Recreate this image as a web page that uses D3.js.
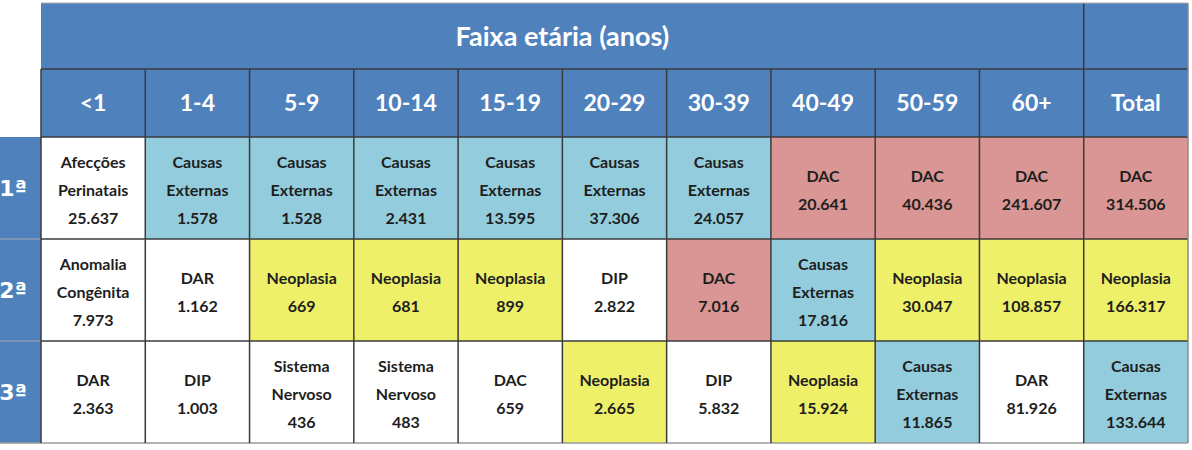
<!DOCTYPE html>
<html>
<head>
<meta charset="utf-8">
<script src="https://cdn.jsdelivr.net/npm/d3@7"></script>
<style>
  body { margin: 0; background: #fff; }
  svg text { font-family: Lato, "Open Sans", sans-serif; }
  svg text.rank-label { font-family: "DejaVu Sans", "Open Sans", sans-serif; }
</style>
</head>
<body>
<svg class="tabela"></svg>
<script>
const width = 1192;
const height = 450;

const title = "Faixa etária (anos)";
const ageGroups = ["<1", "1-4", "5-9", "10-14", "15-19", "20-29", "30-39", "40-49", "50-59", "60+", "Total"];
const ranks = ["1ª", "2ª", "3ª"];
const firstCause = ["Afecções Perinatais", "Causas Externas", "Causas Externas", "Causas Externas", "Causas Externas", "Causas Externas", "Causas Externas", "DAC", "DAC", "DAC", "DAC"];
const firstValue = [25637, 1578, 1528, 2431, 13595, 37306, 24057, 20641, 40436, 241607, 314506];
const secondCause = ["Anomalia Congênita", "DAR", "Neoplasia", "Neoplasia", "Neoplasia", "DIP", "DAC", "Causas Externas", "Neoplasia", "Neoplasia", "Neoplasia"];
const secondValue = [7973, 1162, 669, 681, 899, 2822, 7016, 17816, 30047, 108857, 166317];
const thirdCause = ["DAR", "DIP", "Sistema Nervoso", "Sistema Nervoso", "DAC", "Neoplasia", "DIP", "Neoplasia", "Causas Externas", "DAR", "Causas Externas"];
const thirdValue = [2363, 1003, 436, 483, 659, 2665, 5832, 15924, 11865, 81926, 133644];
// cells that are highlighted in the original table (1 = shaded by cause)
const firstMarked = [0, 1, 1, 1, 1, 1, 1, 1, 1, 1, 1];
const secondMarked = [0, 0, 1, 1, 1, 0, 1, 1, 1, 1, 1];
const thirdMarked = [0, 0, 0, 0, 0, 1, 0, 1, 1, 0, 1];

const causes = [firstCause, secondCause, thirdCause];
const values = [firstValue, secondValue, thirdValue];
const marked = [firstMarked, secondMarked, thirdMarked];

const blue = "#4f81bd";
const lineColor = "#3b3b3b";
const causeColor = d3.scaleOrdinal()
  .domain(["Causas Externas", "DAC", "Neoplasia"])
  .range(["#93cddd", "#da9694", "#eff06a"])
  .unknown("#ffffff");

const br = d3.formatLocale({ decimal: ",", thousands: ".", grouping: [3], currency: ["R$", ""] });
const fmt = br.format(",d");

const svg = d3.select(".tabela").attr("width", width).attr("height", height);

const tLeft = 41, tRight = 1188, tTop = 3, headMid = 69, headBottom = 137, tBottom = 443;

const x = d3.scaleBand().domain(ageGroups).range([tLeft, tRight]);
const y = d3.scaleBand().domain(ranks).range([headBottom, tBottom]);

// header block
svg.append("rect")
  .attr("x", tLeft).attr("y", tTop)
  .attr("width", tRight - tLeft).attr("height", headBottom - tTop)
  .attr("fill", blue);

svg.append("text")
  .attr("x", (x("<1") + x("Total")) / 2)
  .attr("y", (tTop + headMid) / 2)
  .attr("dy", "0.36em")
  .attr("text-anchor", "middle")
  .attr("fill", "#fff")
  .attr("font-size", 27)
  .attr("font-weight", 700)
  .text(title);

svg.selectAll(".col-label")
  .data(ageGroups)
  .enter()
  .append("text")
  .attr("class", "col-label")
  .attr("x", d => x(d) + x.bandwidth() / 2)
  .attr("y", (headMid + headBottom) / 2)
  .attr("dy", "0.36em")
  .attr("text-anchor", "middle")
  .attr("fill", "#fff")
  .attr("font-size", 23)
  .attr("font-weight", 700)
  .text(d => d);

// rank column
svg.append("rect")
  .attr("x", 0).attr("y", headBottom)
  .attr("width", tLeft).attr("height", tBottom - headBottom)
  .attr("fill", blue);

svg.selectAll(".rank-sep")
  .data(ranks.slice(1))
  .enter()
  .append("line")
  .attr("x1", 0).attr("x2", tLeft)
  .attr("y1", d => y(d)).attr("y2", d => y(d))
  .style("stroke", "#8c9bb3")
  .style("stroke-width", "1.5px");

svg.selectAll(".rank-label")
  .data(ranks)
  .enter()
  .append("text")
  .attr("class", "rank-label")
  .attr("x", 27)
  .attr("y", d => y(d) + y.bandwidth() / 2)
  .attr("dy", "0.36em")
  .attr("text-anchor", "end")
  .attr("fill", "#fff")
  .attr("font-size", 22)
  .attr("font-weight", 700)
  .text(d => d);

// body cells
const cells = [];
ranks.forEach((r, i) => {
  ageGroups.forEach((g, j) => {
    cells.push({ rank: r, group: g, cause: causes[i][j], value: values[i][j], marked: marked[i][j] });
  });
});

const cell = svg.selectAll(".cell")
  .data(cells)
  .enter()
  .append("g")
  .attr("class", "cell")
  .attr("transform", d => `translate(${x(d.group)},${y(d.rank)})`);

cell.append("rect")
  .attr("width", x.bandwidth())
  .attr("height", y.bandwidth())
  .attr("fill", d => d.marked ? causeColor(d.cause) : "#ffffff");

cell.each(function (d) {
  const lines = d.cause.split(" ").concat(fmt(d.value));
  const lh = 28;
  const start = y.bandwidth() / 2 - (lines.length - 1) * lh / 2 + 2;
  d3.select(this).selectAll("text")
    .data(lines)
    .enter()
    .append("text")
    .attr("x", x.bandwidth() / 2)
    .attr("y", (t, k) => start + k * lh)
    .attr("dy", "0.36em")
    .attr("text-anchor", "middle")
    .attr("fill", "#1e1e1e")
    .attr("font-size", 16)
    .attr("font-weight", 700)
    .text(t => t);
});

// grid lines
const grid = svg.append("g")
  .style("stroke", lineColor)
  .style("stroke-width", "1.5px");

// horizontal
[headMid, headBottom].forEach(v => {
  grid.append("line").attr("x1", tLeft).attr("x2", tRight).attr("y1", v).attr("y2", v);
});
ranks.slice(1).forEach(r => {
  grid.append("line").attr("x1", tLeft).attr("x2", tRight).attr("y1", y(r)).attr("y2", y(r));
});
grid.append("line").attr("x1", 0).attr("x2", tRight).attr("y1", tBottom).attr("y2", tBottom)
  .style("stroke", "#9a9a9a");

// vertical
ageGroups.slice(1).forEach(g => {
  grid.append("line")
    .attr("x1", x(g)).attr("x2", x(g))
    .attr("y1", g === "Total" ? tTop : headMid).attr("y2", tBottom);
});
grid.append("line").attr("x1", tLeft).attr("x2", tLeft).attr("y1", headMid).attr("y2", tBottom);
grid.append("line").attr("x1", tRight).attr("x2", tRight).attr("y1", tTop).attr("y2", tBottom)
  .style("stroke", "#8a8a8a");
grid.append("line").attr("x1", tLeft).attr("x2", tRight).attr("y1", tTop).attr("y2", tTop)
  .style("stroke", "#b0b0b0").style("stroke-width", "1px");
</script>
</body>
</html>
